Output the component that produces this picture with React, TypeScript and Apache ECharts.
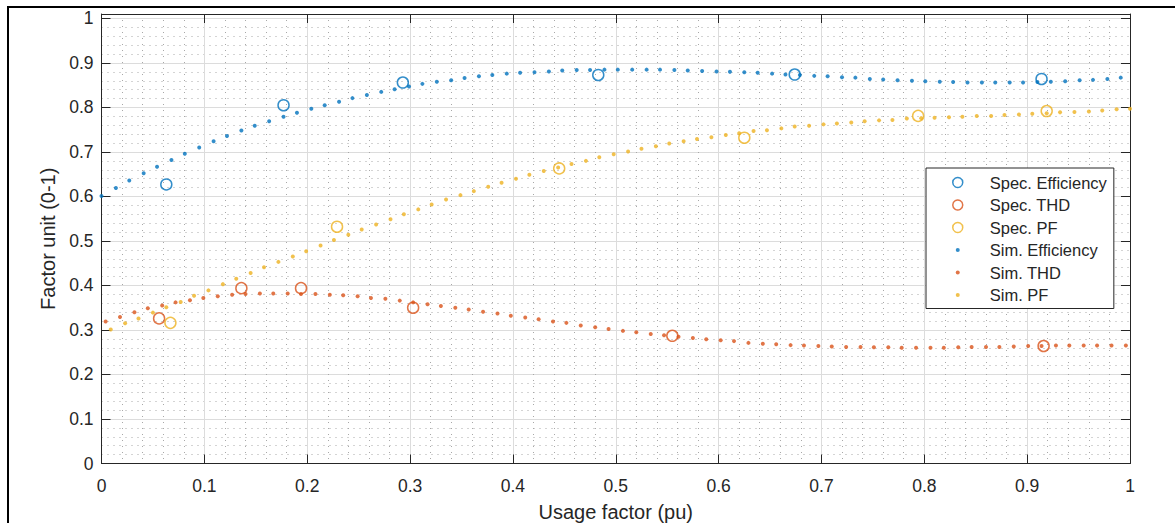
import React, { useEffect, useRef } from "react";
import * as echarts from "echarts";

const FONT = "'Liberation Sans', Arial, Helvetica, sans-serif";
const INK = "#262626";
const BLUE = "#0072BD";
const RED = "#D95319";
const YELLOW = "#EDB120";

// Spec. (measured) points
const specEffX = [0.063, 0.177, 0.293, 0.483, 0.674, 0.914];
const specEffY = [0.627, 0.805, 0.856, 0.873, 0.874, 0.864];
const specThdX = [0.056, 0.136, 0.194, 0.303, 0.555, 0.916];
const specThdY = [0.326, 0.394, 0.394, 0.35, 0.287, 0.264];
const specPfX = [0.067, 0.229, 0.445, 0.625, 0.794, 0.919];
const specPfY = [0.316, 0.532, 0.663, 0.732, 0.781, 0.792];

// Sim. points
const simEffX = [
  0.0, 0.014, 0.027, 0.041, 0.054, 0.068, 0.081, 0.095, 0.109, 0.122,
  0.136, 0.149, 0.163, 0.177, 0.19, 0.204, 0.217, 0.231, 0.244, 0.258,
  0.272, 0.285, 0.299, 0.312, 0.326, 0.34, 0.353, 0.367, 0.38, 0.394,
  0.407, 0.421, 0.435, 0.448, 0.462, 0.475, 0.489, 0.502, 0.516, 0.53,
  0.543, 0.557, 0.57, 0.584, 0.598, 0.611, 0.625, 0.638, 0.652, 0.665,
  0.679, 0.693, 0.706, 0.72, 0.733, 0.747, 0.76, 0.774, 0.788, 0.801,
  0.815, 0.828, 0.842, 0.856, 0.869, 0.883, 0.896, 0.91, 0.923, 0.937,
  0.951, 0.964, 0.978, 0.991,
];
const simEffY = [
  0.601, 0.619, 0.636, 0.652, 0.667, 0.682, 0.696, 0.71, 0.724, 0.736,
  0.748, 0.759, 0.769, 0.779, 0.788, 0.797, 0.805, 0.813, 0.821, 0.828,
  0.835, 0.841, 0.847, 0.853, 0.858, 0.861, 0.866, 0.87, 0.873, 0.876,
  0.878, 0.879, 0.881, 0.883, 0.884, 0.884, 0.885, 0.885, 0.885, 0.885,
  0.885, 0.884, 0.883, 0.882, 0.881, 0.88, 0.879, 0.878, 0.876, 0.874,
  0.873, 0.871, 0.87, 0.868, 0.867, 0.864, 0.863, 0.861, 0.86, 0.859,
  0.858, 0.857, 0.856, 0.856, 0.856, 0.856, 0.856, 0.857, 0.858, 0.859,
  0.861, 0.862, 0.864, 0.867,
];
const simThdX = [
  0.004, 0.018, 0.032, 0.045, 0.059, 0.072, 0.086, 0.099, 0.113, 0.127,
  0.14, 0.154, 0.167, 0.181, 0.194, 0.208, 0.222, 0.235, 0.249, 0.262,
  0.276, 0.29, 0.303, 0.317, 0.33, 0.344, 0.357, 0.371, 0.385, 0.398,
  0.412, 0.425, 0.439, 0.452, 0.466, 0.48, 0.493, 0.507, 0.52, 0.534,
  0.547, 0.561, 0.575, 0.588, 0.602, 0.615, 0.629, 0.643, 0.656, 0.67,
  0.683, 0.697, 0.71, 0.724, 0.738, 0.751, 0.765, 0.778, 0.792, 0.806,
  0.819, 0.833, 0.846, 0.86, 0.873, 0.887, 0.901, 0.914, 0.928, 0.941,
  0.955, 0.968, 0.982, 0.996,
];
const simThdY = [
  0.319, 0.329, 0.34, 0.349, 0.355, 0.362, 0.367, 0.372, 0.376, 0.379,
  0.381, 0.382, 0.382, 0.382, 0.381, 0.381, 0.379, 0.378, 0.376, 0.372,
  0.37, 0.366, 0.362, 0.358, 0.354, 0.35, 0.346, 0.341, 0.337, 0.332,
  0.328, 0.324, 0.319, 0.316, 0.31, 0.306, 0.302, 0.298, 0.295, 0.291,
  0.288, 0.285, 0.282, 0.279, 0.277, 0.275, 0.271, 0.269, 0.268, 0.266,
  0.265, 0.264, 0.263, 0.262, 0.262, 0.261, 0.261, 0.26, 0.26, 0.26,
  0.26, 0.261, 0.262, 0.262, 0.262, 0.263, 0.264, 0.264, 0.265, 0.265,
  0.265, 0.265, 0.265, 0.265,
];
const simPfX = [
  0.009, 0.023, 0.036, 0.05, 0.063, 0.077, 0.09, 0.104, 0.118, 0.131,
  0.145, 0.158, 0.172, 0.186, 0.199, 0.213, 0.226, 0.24, 0.253, 0.267,
  0.281, 0.294, 0.308, 0.321, 0.335, 0.349, 0.362, 0.376, 0.389, 0.403,
  0.416, 0.43, 0.444, 0.457, 0.471, 0.484, 0.498, 0.512, 0.525, 0.539,
  0.552, 0.566, 0.579, 0.593, 0.607, 0.62, 0.634, 0.647, 0.661, 0.674,
  0.688, 0.702, 0.715, 0.729, 0.742, 0.756, 0.769, 0.783, 0.797, 0.81,
  0.824, 0.837, 0.851, 0.865, 0.878, 0.892, 0.905, 0.919, 0.932, 0.946,
  0.96, 0.973, 0.987, 1.0,
];
const simPfY = [
  0.301, 0.315, 0.326, 0.339, 0.351, 0.363, 0.377, 0.389, 0.403, 0.415,
  0.428, 0.441, 0.453, 0.465, 0.477, 0.49, 0.502, 0.514, 0.526, 0.537,
  0.549, 0.56, 0.571, 0.582, 0.593, 0.603, 0.612, 0.622, 0.631, 0.64,
  0.649, 0.657, 0.665, 0.673, 0.68, 0.688, 0.695, 0.701, 0.707, 0.713,
  0.719, 0.724, 0.729, 0.733, 0.738, 0.742, 0.747, 0.749, 0.753, 0.757,
  0.759, 0.762, 0.764, 0.766, 0.769, 0.771, 0.772, 0.775, 0.776, 0.777,
  0.778, 0.779, 0.781, 0.781, 0.783, 0.784, 0.786, 0.787, 0.789, 0.79,
  0.791, 0.793, 0.796, 0.797,
];

const X_TICK_STEP = 0.1;
const Y_TICK_STEP = 0.1;
const MINOR_STEP = 0.02;
const X_MAX = 1;
const Y_MAX = 1.01;

const zip = (xs: number[], ys: number[]) => xs.map((x, i) => [x, ys[i]]);

const DOT_ICON =
  "path://M0,0M11,11M3.3,5.5A2.2,2.2,0,1,1,7.7,5.5A2.2,2.2,0,1,1,3.3,5.5Z";

const tickFmt = (v: number) => {
  const r = Math.round(v * 10) / 10;
  return Math.abs(v - r) < 1e-6 ? String(r) : "";
};

function buildOption() {
  const hollow = (color: string) => ({
    color: "rgba(0,0,0,0)",
    borderColor: color,
    borderWidth: 1.5,
  });
  const specSeries = (name: string, xs: number[], ys: number[], color: string) => ({
    name,
    type: "scatter",
    xAxisIndex: 0,
    yAxisIndex: 0,
    data: zip(xs, ys),
    symbol: "circle",
    symbolSize: 11,
    itemStyle: hollow(color),
    clip: false,
    z: 3,
  });
  const simSeries = (name: string, xs: number[], ys: number[], color: string) => ({
    name,
    type: "scatter",
    xAxisIndex: 0,
    yAxisIndex: 0,
    data: zip(xs, ys),
    symbol: "circle",
    symbolSize: 4,
    itemStyle: { color, borderWidth: 0 },
    clip: false,
    z: 4,
  });

  const boxAxisLine = { show: true, onZero: false, lineStyle: { color: INK, width: 1 } };
  const boxTick = { show: true, inside: true, length: 9, lineStyle: { color: INK, width: 1 } };

  return {
    animation: false,
    backgroundColor: "#ffffff",
    grid: {
      left: 101.5,
      top: 14,
      width: 1028.5,
      height: 449.5,
      containLabel: false,
      outerBoundsMode: "none",
    },
    graphic: [
      {
        type: "polyline",
        shape: { points: [[8, 540], [8, 7], [1190, 7]] },
        style: { fill: "none", stroke: "#000000", lineWidth: 2 },
        silent: true,
      },
    ],
    xAxis: [
      {
        type: "value",
        position: "bottom",
        min: 0,
        max: X_MAX,
        interval: X_TICK_STEP,
        axisLine: boxAxisLine,
        axisTick: boxTick,
        axisLabel: {
          color: INK,
          fontSize: 17.5,
          fontFamily: FONT,
          margin: 13.5,
          formatter: tickFmt,
        },
        splitLine: { show: true, lineStyle: { color: "#dcdcdc", width: 1 } },
        minorTick: { show: false, splitNumber: 5 },
        minorSplitLine: { show: true, lineStyle: { color: "#a8a8a8", width: 1, type: [1, 5] } },
        name: "Usage factor (pu)",
        nameLocation: "middle",
        nameGap: 38,
        nameTextStyle: { color: INK, fontSize: 20, fontFamily: FONT },
        z: 2,
      },
      {
        type: "value",
        position: "top",
        min: 0,
        max: X_MAX,
        interval: X_TICK_STEP,
        axisLine: boxAxisLine,
        axisTick: boxTick,
        axisLabel: { show: false },
        splitLine: { show: false },
        z: 2,
      },
    ],
    yAxis: [
      {
        type: "value",
        position: "left",
        min: 0,
        max: Y_MAX,
        interval: Y_TICK_STEP,
        axisLine: boxAxisLine,
        axisTick: boxTick,
        axisLabel: {
          color: INK,
          fontSize: 17.5,
          fontFamily: FONT,
          margin: 8,
          formatter: tickFmt,
        },
        splitLine: { show: true, lineStyle: { color: "#dcdcdc", width: 1 } },
        name: "Factor unit (0-1)",
        nameLocation: "middle",
        nameGap: 43,
        nameTextStyle: { color: INK, fontSize: 20, fontFamily: FONT },
        z: 2,
      },
      {
        type: "value",
        position: "right",
        min: 0,
        max: Y_MAX,
        interval: Y_TICK_STEP,
        axisLine: boxAxisLine,
        axisTick: boxTick,
        axisLabel: { show: false },
        splitLine: { show: false },
        z: 2,
      },
      {
        type: "value",
        position: "left",
        min: 0,
        max: Y_MAX,
        interval: MINOR_STEP,
        axisLine: { show: false },
        axisTick: { show: false },
        axisLabel: { show: false },
        splitLine: { show: true, lineStyle: { color: "#a8a8a8", width: 1, type: [1, 5] } },
        z: 0,
      },
    ],
    legend: {
      orient: "vertical",
      left: 926,
      top: 168,
      padding: [6, 7, 5, 26],
      itemWidth: 54,
      itemHeight: 10,
      itemGap: 5.5,
      backgroundColor: "#ffffff",
      borderColor: INK,
      borderWidth: 1,
      borderRadius: 0,
      selectedMode: false,
      textStyle: { color: INK, fontSize: 16.5, fontFamily: FONT, lineHeight: 16 },
      data: [
        { name: "Spec. Efficiency", icon: "circle", itemStyle: hollow(BLUE) },
        { name: "Spec. THD", icon: "circle", itemStyle: hollow(RED) },
        { name: "Spec. PF", icon: "circle", itemStyle: hollow(YELLOW) },
        { name: "Sim. Efficiency", icon: DOT_ICON, itemStyle: { color: BLUE, borderWidth: 0 } },
        { name: "Sim. THD", icon: DOT_ICON, itemStyle: { color: RED, borderWidth: 0 } },
        { name: "Sim. PF", icon: DOT_ICON, itemStyle: { color: YELLOW, borderWidth: 0 } },
      ],
    },
    series: [
      specSeries("Spec. Efficiency", specEffX, specEffY, BLUE),
      specSeries("Spec. THD", specThdX, specThdY, RED),
      specSeries("Spec. PF", specPfX, specPfY, YELLOW),
      simSeries("Sim. Efficiency", simEffX, simEffY, BLUE),
      simSeries("Sim. THD", simThdX, simThdY, RED),
      simSeries("Sim. PF", simPfX, simPfY, YELLOW),
    ],
  };
}

export default function App() {
  const ref = useRef<HTMLDivElement>(null);
  useEffect(() => {
    if (!ref.current) return;
    const chart = echarts.init(ref.current, null, { renderer: "svg" });
    chart.setOption(buildOption() as any);
    return () => chart.dispose();
  }, []);
  return (
    <div
      ref={ref}
      style={{
        position: "fixed",
        left: 0,
        top: 0,
        width: 1175,
        height: 523,
        background: "#ffffff",
      }}
    />
  );
}
